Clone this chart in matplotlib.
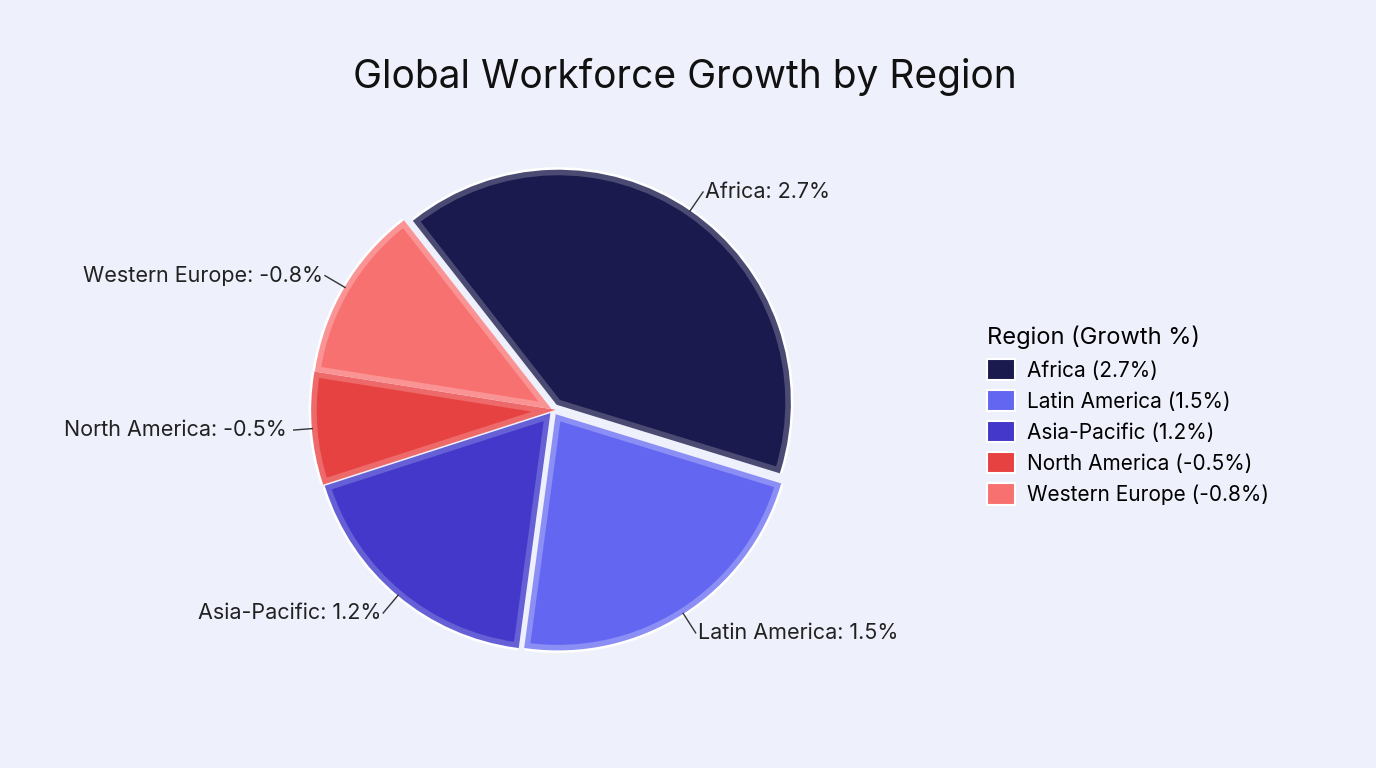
import matplotlib.pyplot as plt
import matplotlib.patches as mp
import numpy as np

regions = ["Africa", "Latin America", "Asia-Pacific", "North America", "Western Europe"]
growth = [2.7, 1.5, 1.2, -0.5, -0.8]
colors = ["#1a1a4e", "#6366f1", "#4338ca", "#e74242", "#f87171"]
edgecols = ["#4a4a72", "#8b8ef5", "#6660d6", "#ee6a6a", "#fa9494"]

plt.rcParams['font.family'] = ['Inter', 'DejaVu Sans']
bg = "#eef0fb"
fig = plt.figure(figsize=(13.76, 7.68), dpi=100, facecolor=bg)
W, H = 1376, 768
cx, cy, s = 553, 410, 520
ax = fig.add_axes([(cx - s/2)/W, (H - cy - s/2)/H, s/W, s/H])
ax.set_facecolor(bg)
sizes = [abs(g) for g in growth]
wedges, _ = ax.pie(sizes, colors=colors, startangle=128, counterclock=False,
                   explode=[0.04]*5, radius=0.99,
                   wedgeprops=dict(linewidth=0))
for w, ec in zip(wedges, edgecols):
    w.set_edgecolor(ec); w.set_linewidth(4)
for w in wedges:
    p = mp.Wedge(w.center, w.r + 0.014, w.theta1, w.theta2, width=w.r + 0.014,
                 facecolor='none', edgecolor='white', linewidth=3, zorder=0.5)
    ax.add_patch(p)
ax.set_xlim(-1.12, 1.12); ax.set_ylim(-1.12, 1.12)
ax.set_aspect('equal'); ax.axis('off')

for w, r, g in zip(wedges, regions, growth):
    a = np.deg2rad((w.theta1 + w.theta2) / 2)
    x0, y0 = np.cos(a) * 1.0 + w.center[0], np.sin(a) * 1.0 + w.center[1]
    x1, y1 = np.cos(a) * 1.1 + w.center[0], np.sin(a) * 1.1 + w.center[1]
    ha = 'left' if np.cos(a) > 0 else 'right'
    ax.plot([x0, x1], [y0, y1], color='#333333', lw=1)
    ax.text(x1 + (0.01 if ha == 'left' else -0.01), y1, f"{r}: {g}%", ha=ha, va='center',
            fontsize=15.5, color='#222222')

fig.text(0.498, 0.9, "Global Workforce Growth by Region", ha='center', va='center',
         fontsize=28, color='#111111')
handles = [mp.Patch(facecolor=c, edgecolor='white', linewidth=1.5) for c in colors]
leg = fig.legend(handles, [f"{r} ({g}%)" for r, g in zip(regions, growth)],
                 title="Region (Growth %)", loc='upper left', bbox_to_anchor=(0.704, 0.6),
                 frameon=False, fontsize=15, title_fontsize=17, handlelength=1.3,
                 handleheight=1.2, labelspacing=0.45, handletextpad=0.6)
leg._legend_box.align = 'left'
fig.savefig("out.png", dpi=100, facecolor=bg)
